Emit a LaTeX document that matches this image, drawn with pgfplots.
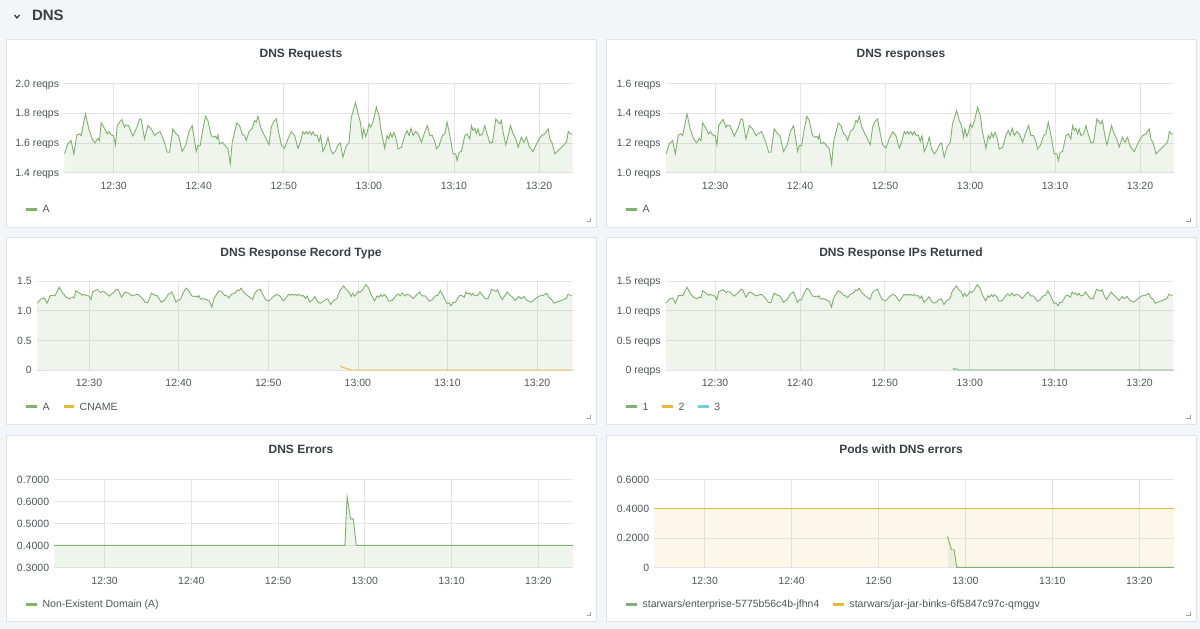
\documentclass[border=0pt]{standalone}
\usepackage{fontspec}
\setmainfont{Liberation Sans}
\usepackage{pgfplots}
\usepackage{pgfplotstable}
\pgfplotsset{compat=1.18}

\definecolor{pagebg}{HTML}{F4F5F8}
\definecolor{panelline}{HTML}{DFE2E7}
\definecolor{titletxt}{HTML}{3B3E44}
\definecolor{ticktxt}{HTML}{52555B}
\definecolor{gridc}{HTML}{E4E4E4}
\definecolor{gA}{HTML}{7EB26D}
\definecolor{gB}{HTML}{EAB839}
\definecolor{gC}{HTML}{6ED0E0}

\newcommand\tickfont{\fontsize{10.5}{12}\selectfont}
\newcommand\titlefont{\bfseries\fontsize{12}{14}\selectfont}

% t = minutes after 12:30
\pgfplotstableread{
t resp req
-5.78 1.126 1.526
-5.39 1.193 1.593
-5.00 1.216 1.616
-4.68 1.126 1.526
-4.33 1.254 1.654
-4.02 1.260 1.660
-3.82 1.249 1.649
-3.31 1.395 1.795
-2.92 1.294 1.694
-2.53 1.227 1.627
-2.17 1.200 1.600
-1.86 1.231 1.631
-1.66 1.215 1.615
-1.47 1.334 1.734
-1.07 1.298 1.698
-0.76 1.260 1.660
-0.56 1.276 1.676
-0.29 1.254 1.654
-0.02 1.249 1.649
0.22 1.187 1.587
0.42 1.316 1.716
0.69 1.339 1.739
0.96 1.357 1.757
1.28 1.305 1.705
1.47 1.321 1.721
1.75 1.316 1.716
2.26 1.245 1.645
2.73 1.305 1.705
3.04 1.361 1.761
3.24 1.357 1.757
3.63 1.227 1.627
4.02 1.316 1.716
4.42 1.294 1.694
4.81 1.249 1.649
5.20 1.267 1.667
5.47 1.276 1.676
5.98 1.204 1.604
6.30 1.137 1.537
6.57 1.137 1.537
6.96 1.294 1.694
7.36 1.260 1.660
7.63 1.249 1.649
8.06 1.142 1.542
8.46 1.182 1.582
8.85 1.276 1.676
9.24 1.316 1.716
9.71 1.142 1.542
9.91 1.182 1.582
10.18 1.182 1.582
10.49 1.294 1.694
10.81 1.379 1.779
11.08 1.350 1.750
11.47 1.249 1.649
11.75 1.238 1.638
11.98 1.245 1.645
12.14 1.227 1.627
12.26 1.254 1.654
12.46 1.193 1.593
12.77 1.204 1.604
13.04 1.187 1.587
13.44 1.160 1.560
13.71 1.059 1.459
13.94 1.204 1.604
14.22 1.272 1.672
14.49 1.334 1.734
14.81 1.316 1.716
15.12 1.260 1.660
15.40 1.249 1.649
15.59 1.216 1.616
15.91 1.276 1.676
16.30 1.298 1.698
16.57 1.350 1.750
16.77 1.339 1.739
16.96 1.379 1.779
17.28 1.305 1.705
17.63 1.260 1.660
17.94 1.227 1.627
18.26 1.187 1.587
18.53 1.305 1.705
18.81 1.343 1.743
19.12 1.361 1.761
19.44 1.260 1.660
19.71 1.187 1.587
20.10 1.164 1.564
20.49 1.227 1.627
20.89 1.276 1.676
21.28 1.249 1.649
21.67 1.164 1.564
21.94 1.204 1.604
22.26 1.276 1.676
22.46 1.260 1.660
22.65 1.276 1.676
22.85 1.260 1.660
23.04 1.276 1.676
23.24 1.254 1.654
23.44 1.276 1.676
23.67 1.249 1.649
23.91 1.254 1.654
24.14 1.209 1.609
24.34 1.249 1.649
24.61 1.142 1.542
24.93 1.182 1.582
25.20 1.238 1.638
25.47 1.160 1.560
25.79 1.126 1.526
26.10 1.149 1.549
26.38 1.187 1.587
26.65 1.200 1.600
26.96 1.104 1.504
27.28 1.171 1.571
27.67 1.204 1.604
27.94 1.328 1.770
28.42 1.417 1.870
28.73 1.350 1.800
29.00 1.316 1.740
29.24 1.238 1.638
29.40 1.294 1.694
29.63 1.243 1.643
29.83 1.276 1.676
30.02 1.328 1.728
30.22 1.305 1.705
30.49 1.343 1.743
30.89 1.439 1.839
31.20 1.383 1.783
31.47 1.272 1.672
31.87 1.164 1.564
32.14 1.249 1.649
32.34 1.227 1.627
32.53 1.267 1.667
32.73 1.238 1.638
32.93 1.272 1.672
33.16 1.238 1.638
33.44 1.160 1.560
33.83 1.171 1.571
34.22 1.249 1.649
34.49 1.283 1.683
34.73 1.249 1.649
34.96 1.298 1.698
35.20 1.249 1.649
35.51 1.276 1.676
35.79 1.260 1.660
36.18 1.204 1.604
36.57 1.272 1.672
36.89 1.316 1.716
37.16 1.249 1.649
37.47 1.249 1.649
37.75 1.209 1.609
37.94 1.160 1.560
38.26 1.182 1.582
38.65 1.249 1.649
38.93 1.260 1.660
39.20 1.339 1.739
39.51 1.254 1.654
39.91 1.126 1.526
40.22 1.126 1.526
40.38 1.081 1.481
40.61 1.137 1.537
40.89 1.142 1.542
41.28 1.249 1.649
41.55 1.260 1.660
41.87 1.227 1.627
42.06 1.316 1.716
42.26 1.283 1.683
42.46 1.298 1.698
42.65 1.260 1.660
42.85 1.294 1.694
43.04 1.249 1.649
43.36 1.260 1.660
43.63 1.316 1.716
43.91 1.260 1.660
44.22 1.200 1.600
44.53 1.204 1.604
44.93 1.361 1.761
45.20 1.339 1.739
45.40 1.328 1.728
45.59 1.350 1.750
45.79 1.272 1.672
46.10 1.187 1.587
46.38 1.249 1.649
46.65 1.316 1.716
46.96 1.260 1.660
47.28 1.227 1.627
47.55 1.171 1.571
47.94 1.238 1.638
48.22 1.204 1.604
48.53 1.238 1.638
48.85 1.176 1.576
49.32 1.142 1.542
49.71 1.193 1.593
50.02 1.227 1.627
50.30 1.249 1.649
50.69 1.260 1.660
51.08 1.294 1.694
51.28 1.227 1.627
51.59 1.193 1.593
51.87 1.126 1.526
52.26 1.149 1.549
52.65 1.171 1.571
53.04 1.193 1.593
53.24 1.204 1.604
53.44 1.276 1.676
53.71 1.260 1.660
53.95 1.260 1.660
}\dnsdata

\pgfplotsset{
  panel/.style={
    scale only axis, anchor=north west,
    xmin=-5.8, xmax=54,
    xtick={0,10,20,30,40,50},
    xticklabels={12:30,12:40,12:50,13:00,13:10,13:20},
    grid=major, major grid style={gridc, line width=0.7pt},
    axis line style={draw=none}, major tick length=0pt,
    tick label style={font=\tickfont, text=ticktxt, inner sep=0pt},
    xticklabel style={anchor=base, yshift=-16.8pt},
    yticklabel style={anchor=base east, xshift=-5pt, yshift=-3.7pt},
    legend cell align=left,
    legend columns=-1,
    legend style={draw=none, fill=none, inner sep=0pt, outer sep=0pt, anchor=west,
      font=\tickfont,
      nodes={inner sep=0pt, text height=7.5pt, text depth=0pt, text=ticktxt},
      /tikz/every odd column/.style={column sep=4pt},
      /tikz/every even column/.style={column sep=12.5pt}},
    legend image code/.code={\draw[##1, line width=3pt, fill=none] (0pt,0pt) -- (10.6pt,0pt);},
  },
  ser/.style={#1, line width=0.9pt},
  area/.style={fill=#1, fill opacity=0.12, draw=none, forget plot},
}

\newcommand\panelbox[4]{%
  \filldraw[fill=white, draw=panelline, line width=0.8pt] (#1pt,-#2pt) rectangle (#3pt,-#4pt);
  \draw[ticktxt!55, line width=0.6pt] (#3pt-10pt,-#4pt+6pt) -- (#3pt-6pt,-#4pt+6pt) -- (#3pt-6pt,-#4pt+10pt);
}

\begin{document}
\begin{tikzpicture}
\fill[pagebg] (0pt,0pt) rectangle (1200pt,-629pt);
% header
\draw[titletxt, line width=1.3pt] (14.5pt,-15pt) -- (17pt,-18pt) -- (19.5pt,-15pt);
\node[anchor=base west, inner sep=0pt, font=\bfseries\fontsize{15}{18}\selectfont, text=titletxt] at (31.8pt,-20.7pt) {DNS};

% panels
\panelbox{6}{39.5}{596.5}{227.5}
\panelbox{606.5}{39.5}{1196}{227.5}
\panelbox{6}{237.5}{596.5}{424.5}
\panelbox{606.5}{237.5}{1196}{424.5}
\panelbox{6}{435}{596.5}{621.5}
\panelbox{606.5}{435}{1196}{621.5}

\node[anchor=base, font=\titlefont, text=titletxt] at (301pt,-57.6pt) {DNS Requests};
\node[anchor=base, font=\titlefont, text=titletxt] at (901pt,-57.6pt) {DNS responses};
\node[anchor=base, font=\titlefont, text=titletxt] at (301pt,-256pt) {DNS Response Record Type};
\node[anchor=base, font=\titlefont, text=titletxt] at (901pt,-256pt) {DNS Response IPs Returned};
\node[anchor=base, font=\titlefont, text=titletxt] at (301pt,-453.3pt) {DNS Errors};
\node[anchor=base, font=\titlefont, text=titletxt] at (901pt,-453.3pt) {Pods with DNS errors};

% DNS Requests
\begin{axis}[panel, at={(64.3pt,-83.3pt)}, width=508.7pt, height=89.4pt,
  ymin=1.4, ymax=2.0, ytick={1.4,1.6,1.8,2.0},
  yticklabels={1.4 reqps,1.6 reqps,1.8 reqps,2.0 reqps},
  legend style={at={(-0.0773,-0.406)}}]
\addplot[area=gA] table[x=t,y=req]{\dnsdata} \closedcycle;
\addplot[ser=gA] table[x=t,y=req]{\dnsdata};
\legend{A}
\end{axis}

% DNS responses
\begin{axis}[panel, at={(665.8pt,-83.3pt)}, width=508.2pt, height=89.4pt,
  ymin=1.0, ymax=1.6, ytick={1.0,1.2,1.4,1.6},
  yticklabels={1.0 reqps,1.2 reqps,1.4 reqps,1.6 reqps},
  legend style={at={(-0.0803,-0.406)}}]
\addplot[area=gA] table[x=t,y=resp]{\dnsdata} \closedcycle;
\addplot[ser=gA] table[x=t,y=resp]{\dnsdata};
\legend{A}
\end{axis}

% DNS Response Record Type
\begin{axis}[panel, at={(37pt,-281pt)}, width=536pt, height=89pt,
  ymin=0, ymax=1.5, ytick={0,0.5,1.0,1.5},
  yticklabels={0,0.5,1.0,1.5},
  legend style={at={(-0.0224,-0.412)}}]
\addplot[area=gA] table[x=t,y=resp]{\dnsdata} \closedcycle;
\addplot[ser=gA] table[x=t,y=resp]{\dnsdata};
\addplot[ser=gB] coordinates {(28.0,0.067) (28.4,0.04) (28.9,0.02) (29.2,0) (54,0)};
\legend{A,CNAME}
\end{axis}

% DNS Response IPs Returned
\begin{axis}[panel, at={(665.8pt,-281pt)}, width=507.7pt, height=89pt,
  ymin=0, ymax=1.5, ytick={0,0.5,1.0,1.5},
  yticklabels={0 reqps,0.5 reqps,1.0 reqps,1.5 reqps},
  legend style={at={(-0.0804,-0.412)}}]
\addplot[area=gA] table[x=t,y=resp]{\dnsdata} \closedcycle;
\addplot[ser=gA] table[x=t,y=resp]{\dnsdata};
\addplot[ser=gB] coordinates {(28.0,0.01) (28.8,0) (54,0)};
\addplot[ser=gC] coordinates {(28.0,0.028) (28.4,0.02) (28.8,0) (54,0)};
\legend{1,2,3}
\end{axis}

% DNS Errors
\begin{axis}[panel, at={(54.3pt,-479.3pt)}, width=518.7pt, height=88pt,
  ymin=0.3, ymax=0.7, ytick={0.3,0.4,0.5,0.6,0.7},
  yticklabels={0.3000,0.4000,0.5000,0.6000,0.7000},
  legend style={at={(-0.0565,-0.417)}}]
\addplot[area=gA] coordinates {(-5.8,0.4) (27.7,0.4) (27.96,0.62) (28.36,0.52) (28.67,0.52) (29.02,0.4) (54,0.4)} \closedcycle;
\addplot[ser=gA] coordinates {(-5.8,0.4) (27.7,0.4) (27.96,0.62) (28.36,0.52) (28.67,0.52) (29.02,0.4) (54,0.4)};
\legend{Non-Existent Domain (A)}
\end{axis}

% Pods with DNS errors
\begin{axis}[panel, at={(654.3pt,-479.3pt)}, width=519.7pt, height=88pt,
  ymin=0, ymax=0.6, ytick={0,0.2,0.4,0.6},
  yticklabels={0,0.2000,0.4000,0.6000},
  legend style={at={(-0.0564,-0.417)}}]
\addplot[area=gB, fill opacity=0.11] coordinates {(-5.8,0.4) (54,0.4)} \closedcycle;
\addplot[area=gA] coordinates {(27.94,0.21) (28.4,0.12) (28.7,0.12) (29.0,0) (54,0)} \closedcycle;
\addplot[ser=gA] coordinates {(27.94,0.21) (28.4,0.12) (28.7,0.12) (29.0,0) (54,0)};
\addplot[ser=gB] coordinates {(-5.8,0.4) (54,0.4)};
\legend{starwars/enterprise-5775b56c4b-jfhn4,starwars/jar-jar-binks-6f5847c97c-qmggv}
\end{axis}
\end{tikzpicture}
\end{document}
